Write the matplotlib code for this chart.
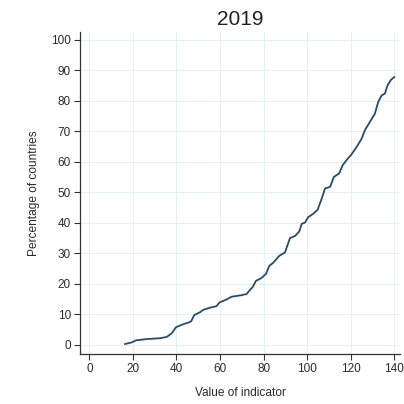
import matplotlib.pyplot as plt

plt.rcParams['font.family'] = ['Liberation Sans', 'DejaVu Sans']

# cumulative distribution
indicator = [16.4, 19.4, 21.4, 26.3, 32.4, 35.5, 37.8, 39.8, 42.4, 45.4, 46.7,
             48.2, 50.8, 52.3, 55.4, 58.4, 59.7, 63.0, 65.3, 69.9, 72.2, 73.7,
             74.9, 76.5, 79.0, 81.1, 82.6, 84.5, 87.2, 89.8, 92.1, 94.4, 96.4,
             97.5, 99.0, 100.5, 102.8, 104.8, 106.6, 108.2, 110.5, 112.3, 114.7,
             116.3, 118.1, 120.4, 122.7, 125.0, 126.5, 128.8, 131.1, 132.6,
             134.2, 135.7, 136.9, 138.5, 140.0]
pct = [0.3, 0.8, 1.5, 1.9, 2.2, 2.6, 3.8, 5.8, 6.6, 7.3, 7.7,
       9.8, 10.7, 11.5, 12.2, 12.7, 13.9, 14.9, 15.8, 16.3, 16.7, 18.0,
       18.9, 21.0, 21.9, 23.3, 25.9, 27.0, 29.2, 30.3, 35.0, 35.7, 37.2,
       39.7, 40.1, 41.9, 43.0, 44.3, 47.8, 51.3, 51.8, 55.1, 56.2,
       58.9, 60.6, 62.5, 64.9, 67.6, 70.4, 73.1, 75.8, 79.6,
       81.8, 82.4, 85.1, 86.9, 87.8]
xticks = [0, 20, 40, 60, 80, 100, 120, 140]
yticks = [0, 10, 20, 30, 40, 50, 60, 70, 80, 90, 100]

fig = plt.figure(figsize=(4.04, 4.04), dpi=100)
ax = fig.add_axes([0.198, 0.124, 0.792, 0.797])

ax.plot(indicator, pct, color='#2b4b66', linewidth=1.3)

ax.set_xlim(-4.3, 142.6)
ax.set_ylim(-2.95, 102.6)
ax.set_xticks(xticks)
ax.set_yticks(yticks)
ax.grid(True, color='#e8eff2', linewidth=0.8)
ax.set_axisbelow(True)

for side in ['top', 'right']:
    ax.spines[side].set_visible(False)
for side in ['left', 'bottom']:
    ax.spines[side].set_color('#333333')
    ax.spines[side].set_linewidth(0.9)

ax.tick_params(direction='out', length=4, width=0.8, colors='#333333',
               labelsize=8.5, labelcolor='#2a2a2a', pad=2.5)

ax.set_xlabel('Value of indicator', fontsize=8.6, color='#2a2a2a', labelpad=9)
ax.set_ylabel('Percentage of countries', fontsize=8.6, color='#2a2a2a', labelpad=8)
ax.set_title('2019', fontsize=15, color='#222222', pad=5)

fig.savefig('out.png', dpi=100, facecolor='white')
